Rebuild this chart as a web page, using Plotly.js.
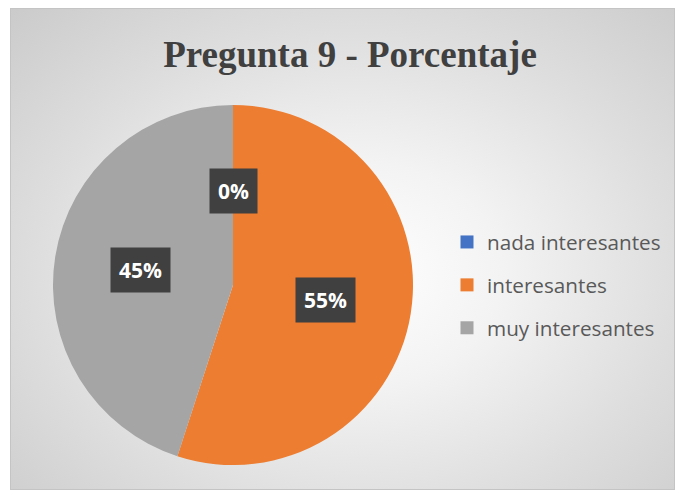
<!DOCTYPE html>
<html>
<head>
<meta charset="utf-8">
<script src="https://cdn.plot.ly/plotly-3.0.1.min.js"></script>
<style>
  html, body { margin: 0; padding: 0; background: #ffffff; }
  #wrap { position: relative; width: 675px; height: 491px; overflow: hidden; }
  #bg { position: absolute; left: 10px; top: 8px; width: 665px; height: 482px;
        box-sizing: border-box; border: 1px solid #c4c4c4;
        background: radial-gradient(ellipse farthest-corner at 52% 55%, #ffffff 0%, #f3f3f3 30%, #dedede 65%, #cbcbcb 100%); }
  #chart { position: absolute; left: 0; top: 0; width: 675px; height: 491px; }
</style>
</head>
<body>
<div id="wrap"><div id="bg"></div><div id="chart"></div></div>
<script>
const categories = ["nada interesantes", "interesantes", "muy interesantes"];
const percentages = [0, 55, 45];
const colors = ["#4472C4", "#ED7D31", "#A5A5A5"];
const titleText = "Pregunta 9 - Porcentaje";

const W = 675, H = 491;
const domX = [53 / W, 413 / W];
const domY = [(H - 465) / H, (H - 105) / H];

// pie centre & radius in pixels, derived from the domain
const cxPx = (domX[0] + domX[1]) / 2 * W;
const cyPx = H - (domY[0] + domY[1]) / 2 * H;
const Rpx = Math.min((domX[1] - domX[0]) * W, (domY[1] - domY[0]) * H) / 2;

const total = percentages.reduce((a, b) => a + b, 0);
const labelAnns = [];
let cum = 0;
percentages.forEach((v, i) => {
  const mid = (cum + v / 2) / total * 2 * Math.PI; // clockwise from 12 o'clock
  cum += v;
  const rl = 0.52 * Rpx;
  const px = cxPx + rl * Math.sin(mid);
  const py = cyPx - rl * Math.cos(mid);
  const txt = Math.round(v / total * 100) + "%";
  labelAnns.push({
    x: px / W, y: (H - py) / H, xref: "paper", yref: "paper",
    xanchor: "center", yanchor: "middle",
    showarrow: false, borderpad: 8, text: txt,
    bgcolor: "#404040",
    font: { family: "Open Sans", size: 21, color: "#ffffff", weight: "bold" }
  });
});

const traces = [{
  type: "pie",
  labels: categories,
  values: percentages,
  sort: false,
  direction: "clockwise",
  rotation: 0,
  marker: { colors: colors, line: { width: 0 } },
  textinfo: "none",
  hoverinfo: "label+percent",
  showlegend: false,
  domain: { x: domX, y: domY }
}];

// legend entries (one group per category for spacing)
categories.forEach((c, i) => {
  traces.push({
    type: "scatter", mode: "markers", x: [null], y: [null],
    name: c, legendgroup: "g" + i, showlegend: true,
    marker: { symbol: "square", size: 13, color: colors[i] },
    hoverinfo: "skip"
  });
});

const layout = {
  width: W, height: H,
  margin: { l: 0, r: 0, t: 0, b: 0 },
  paper_bgcolor: "rgba(0,0,0,0)",
  plot_bgcolor: "rgba(0,0,0,0)",
  xaxis: { visible: false, domain: [0.98, 1] },
  yaxis: { visible: false, domain: [0.98, 1] },
  title: {
    text: titleText,
    font: { family: "Liberation Serif", size: 37, color: "#404040", weight: "bold" },
    x: 350 / W, xref: "container", xanchor: "center",
    y: 1 - 54 / H, yref: "container", yanchor: "middle"
  },
  showlegend: true,
  legend: {
    x: 447 / W, xanchor: "left",
    y: (H - 222) / H, yanchor: "top",
    font: { family: "Open Sans", size: 20.7, color: "#595959" },
    tracegroupgap: 13,
    bgcolor: "rgba(0,0,0,0)",
    itemclick: false
  },
  annotations: labelAnns
};

Plotly.newPlot("chart", traces, layout, { displayModeBar: false, staticPlot: true });
</script>
</body>
</html>
